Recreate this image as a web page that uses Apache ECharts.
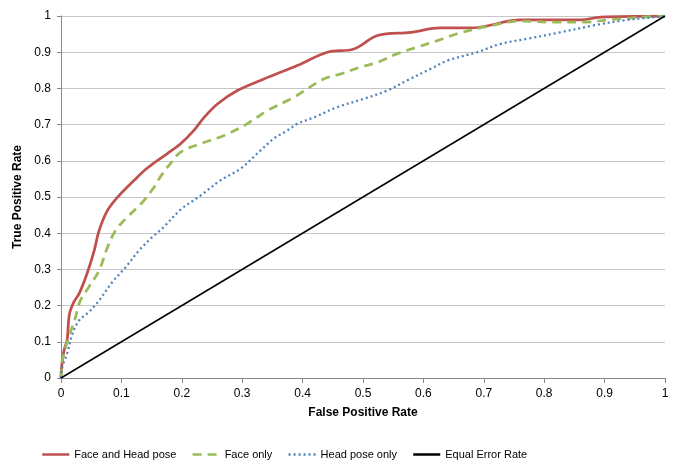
<!DOCTYPE html>
<html>
<head>
<meta charset="utf-8">
<script src="https://cdn.jsdelivr.net/npm/echarts@6/dist/echarts.min.js"></script>
<style>
  html, body { margin: 0; padding: 0; background: #fff; }
  #chart { width: 680px; height: 462px; }
</style>
</head>
<body>
<div id="chart"></div>
<script>
// tick labels
var tickLabels = ["0", "0.1", "0.2", "0.3", "0.4", "0.5", "0.6", "0.7", "0.8", "0.9", "1"]
var seriesNames = ["Face and Head pose", "Face only", "Head pose only", "Equal Error Rate"]

// Face and Head pose
var faceHeadX = [0, 0.001, 0.005, 0.010, 0.014, 0.021, 0.030, 0.043, 0.055, 0.063, 0.077, 0.096, 0.121, 0.143, 0.176, 0.198, 0.22, 0.237, 0.259, 0.292, 0.336, 0.391, 0.441, 0.485, 0.524, 0.579, 0.628, 0.678, 0.761, 0.861, 0.893, 1]
var faceHeadY = [0, 0.03, 0.076, 0.104, 0.177, 0.209, 0.233, 0.288, 0.352, 0.407, 0.463, 0.504, 0.546, 0.58, 0.62, 0.647, 0.684, 0.72, 0.757, 0.794, 0.826, 0.863, 0.90, 0.909, 0.946, 0.955, 0.967, 0.967, 0.989, 0.989, 0.997, 1]

// Face only
var faceX = [0, 0.002, 0.013, 0.024, 0.032, 0.046, 0.063, 0.077, 0.090, 0.107, 0.135, 0.154, 0.165, 0.182, 0.198, 0.231, 0.27, 0.308, 0.342, 0.386, 0.435, 0.463, 0.496, 0.524, 0.557, 0.590, 0.623, 0.656, 0.70, 0.761, 0.811, 0.866, 0.91, 0.965, 1]
var faceY = [0, 0.048, 0.113, 0.168, 0.214, 0.251, 0.297, 0.361, 0.407, 0.44, 0.486, 0.527, 0.557, 0.594, 0.624, 0.647, 0.670, 0.702, 0.739, 0.776, 0.826, 0.840, 0.859, 0.872, 0.896, 0.914, 0.932, 0.951, 0.969, 0.986, 0.983, 0.983, 0.99, 0.997, 1]

// Head pose only
var headX = [0, 0.002, 0.010, 0.019, 0.030, 0.046, 0.063, 0.085, 0.107, 0.129, 0.151, 0.170, 0.198, 0.231, 0.264, 0.297, 0.330, 0.352, 0.375, 0.391, 0.419, 0.457, 0.501, 0.540, 0.573, 0.612, 0.640, 0.689, 0.728, 0.772, 0.827, 0.882, 0.932, 0.971, 1]
var headY = [0, 0.03, 0.067, 0.122, 0.159, 0.182, 0.214, 0.265, 0.306, 0.352, 0.389, 0.417, 0.465, 0.504, 0.546, 0.578, 0.628, 0.661, 0.684, 0.702, 0.720, 0.748, 0.771, 0.794, 0.822, 0.854, 0.877, 0.90, 0.923, 0.937, 0.955, 0.974, 0.988, 0.995, 1]

// Equal Error Rate
var eerX = [0, 1]
var eerY = [0, 1]

function zip(xs, ys) {
  return xs.map(function (x, i) { return [x, ys[i]] })
}

var font = "'Liberation Sans', sans-serif"
var chart = echarts.init(document.getElementById("chart"), null, { renderer: "canvas" })

function lineSeries(name, data, color, width, type, smooth) {
  return {
    name: name,
    type: "line",
    data: data,
    symbol: "none",
    smooth: smooth,
    lineStyle: { color: color, width: width, type: type },
    itemStyle: { color: color }
  }
}

chart.setOption({
  animation: false,
  textStyle: { fontFamily: font },
  grid: { left: 61, right: 15, top: 16, bottom: 84 },
  legend: {
    left: 36,
    top: 444,
    itemWidth: 27,
    itemHeight: 10,
    itemGap: 15,
    itemStyle: { opacity: 0 },
    lineStyle: { width: 2.5 },
    textStyle: { fontFamily: font, fontSize: 11, color: "#000" },
    data: seriesNames
  },
  xAxis: {
    type: "value",
    min: 0,
    max: 1,
    interval: 0.1,
    name: "False Positive Rate",
    nameLocation: "middle",
    nameGap: 29,
    nameTextStyle: { fontFamily: font, fontWeight: "bold", fontSize: 12, color: "#000" },
    axisLine: { show: true, lineStyle: { color: "#868686", width: 1 } },
    axisTick: { show: true, length: 5, lineStyle: { color: "#868686" } },
    axisLabel: {
      margin: 10, fontSize: 12, color: "#000", fontFamily: font,
      formatter: function (v) { return tickLabels[Math.round(v * 10)] }
    },
    splitLine: { show: false }
  },
  yAxis: {
    type: "value",
    min: 0,
    max: 1,
    interval: 0.1,
    name: "True Positive Rate",
    nameLocation: "middle",
    nameGap: 36,
    nameTextStyle: { fontFamily: font, fontWeight: "bold", fontSize: 12, color: "#000" },
    axisLine: { show: true, lineStyle: { color: "#868686", width: 1 } },
    axisTick: { show: true, length: 4, lineStyle: { color: "#868686" } },
    axisLabel: {
      margin: 10, fontSize: 12, color: "#000", fontFamily: font,
      formatter: function (v) { return tickLabels[Math.round(v * 10)] }
    },
    splitLine: { show: true, lineStyle: { color: "#c6c6c6", width: 1 } }
  },
  series: [
    lineSeries(seriesNames[0], zip(faceHeadX, faceHeadY), "#C0504D", 2.75, "solid", 0.35),
    lineSeries(seriesNames[1], zip(faceX, faceY), "#9BBB59", 2.75, [9, 6], 0.35),
    lineSeries(seriesNames[2], zip(headX, headY), "#4F81BD", 2.25, [2, 3], 0.35),
    lineSeries(seriesNames[3], zip(eerX, eerY), "#000000", 1.5, "solid", false)
  ]
})
</script>
</body>
</html>
